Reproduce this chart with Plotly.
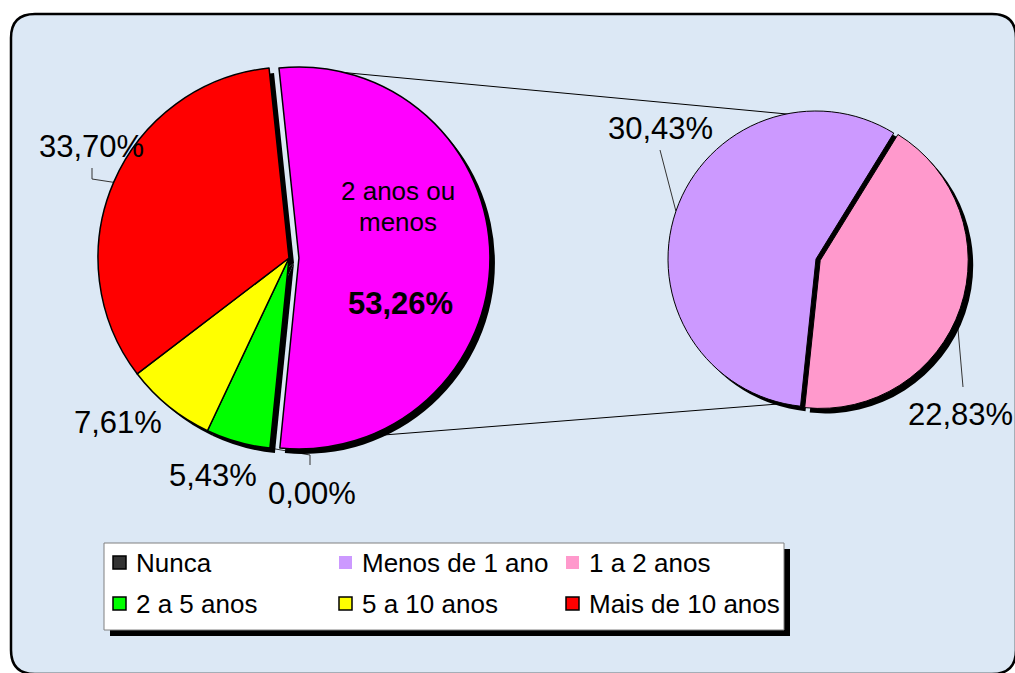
import numpy as np
import plotly.graph_objects as go

W, H = 1015, 673

# main pie
main_labels = ["2 anos ou menos", "Nunca", "2 a 5 anos", "5 a 10 anos", "Mais de 10 anos"]
main_values = [53.26, 0.00, 5.43, 7.61, 33.70]
main_colors = ["#FF00FF", "#333333", "#00FF00", "#FFFF00", "#FF0000"]

# breakdown of "2 anos ou menos"
sub_labels = ["Menos de 1 ano", "1 a 2 anos"]
sub_values = [30.43, 22.83]
sub_colors = ["#CC99FF", "#FF99CC"]

# legend order (two rows of three)
legend_labels = ["Nunca", "Menos de 1 ano", "1 a 2 anos",
                 "2 a 5 anos", "5 a 10 anos", "Mais de 10 anos"]

FONT = "Liberation Sans, Arial, sans-serif"
BG = "#DCE8F5"

# geometry (pixels)
L_CX, L_CY, L_R, L_ROT, L_PULL = 289, 258, 191, -6, 0.052
R_CX, R_CY, R_R, R_ROT, R_PULL = 816, 259, 148, 186, 0.03
SHADOW = 5
# where the connector lines touch each pie (degrees clockwise from 12 o'clock)
CONNECT = [(14, -4), (159, 185)]


def pct(v):
    return f"{v:.2f}".replace(".", ",") + "%"


def domain(cx, cy, r, pull, dx=0, dy=0):
    half = r * (1 + pull)
    return dict(x=[(cx - half + dx) / W, (cx + half + dx) / W],
                y=[1 - (cy + half + dy) / H, 1 - (cy - half + dy) / H])


def edge(cx, cy, r, ang):
    a = np.radians(ang)
    return cx + r * np.sin(a), cy - r * np.cos(a)


def slice_angles(values, rot):
    tot = sum(values)
    starts, ends = [], []
    a = rot
    for v in values:
        starts.append(a)
        a += 360 * v / tot
        ends.append(a)
    return starts, ends


l_start, l_end = slice_angles(main_values, L_ROT)
r_start, r_end = slice_angles(sub_values, R_ROT)
l_mid = [(s + e) / 2 for s, e in zip(l_start, l_end)]
r_mid = [(s + e) / 2 for s, e in zip(r_start, r_end)]

fig = go.Figure()

# shadows first
fig.add_trace(go.Pie(values=main_values, labels=main_labels, sort=False, direction="clockwise",
                     rotation=L_ROT, pull=[L_PULL, 0, 0, 0, 0], textinfo="none", hoverinfo="skip",
                     marker=dict(colors=["black"] * 5, line=dict(width=0)),
                     domain=domain(L_CX, L_CY, L_R, L_PULL, SHADOW, SHADOW), showlegend=False))
fig.add_trace(go.Pie(values=sub_values, labels=sub_labels, sort=False, direction="clockwise",
                     rotation=R_ROT, pull=[0, R_PULL], textinfo="none", hoverinfo="skip",
                     marker=dict(colors=["black"] * 2, line=dict(width=0)),
                     domain=domain(R_CX, R_CY, R_R, R_PULL, SHADOW, SHADOW), showlegend=False))

fig.add_trace(go.Pie(values=main_values, labels=main_labels, sort=False, direction="clockwise",
                     rotation=L_ROT, pull=[L_PULL, 0, 0, 0, 0], textinfo="none",
                     marker=dict(colors=main_colors, line=dict(color="black", width=1.5)),
                     domain=domain(L_CX, L_CY, L_R, L_PULL), showlegend=False))
fig.add_trace(go.Pie(values=sub_values, labels=sub_labels, sort=False, direction="clockwise",
                     rotation=R_ROT, pull=[0, R_PULL], textinfo="none",
                     marker=dict(colors=sub_colors, line=dict(color="black", width=1)),
                     domain=domain(R_CX, R_CY, R_R, R_PULL), showlegend=False))

# connector lines between the pies
pull_px = L_PULL * L_R
mcx = L_CX + pull_px * np.sin(np.radians(l_mid[0]))
mcy = L_CY - pull_px * np.cos(np.radians(l_mid[0]))
for a_left, a_right in CONNECT:
    x0, y0 = edge(mcx, mcy, L_R, a_left)
    x1, y1 = edge(R_CX, R_CY, R_R * 0.97, a_right)
    fig.add_trace(go.Scatter(x=[x0, x1], y=[y0, y1], mode="lines", hoverinfo="skip",
                             line=dict(color="black", width=1), showlegend=False))

# leader lines
leaders = [
    (edge(L_CX, L_CY, L_R, l_mid[4]), [(92, 179), (92, 168)]),
    (edge(L_CX, L_CY, L_R, l_mid[1]), [(310, 455), (310, 465)]),
    (edge(R_CX, R_CY, R_R, r_mid[0]), [(660, 150)]),
    (edge(R_CX, R_CY, R_R, r_mid[1]), [(963, 387)]),
]
for (sx, sy), pts in leaders:
    xs = [sx] + [p[0] for p in pts]
    ys = [sy] + [p[1] for p in pts]
    fig.add_trace(go.Scatter(x=xs, y=ys, mode="lines", hoverinfo="skip",
                             line=dict(color="#333333", width=1), showlegend=False))

# data labels
ann = []
label_pos = {
    "Mais de 10 anos": (91, 146), "5 a 10 anos": (118, 422), "2 a 5 anos": (213, 475),
    "Nunca": (312, 493), "Menos de 1 ano": (660, 128), "1 a 2 anos": (960, 414),
}
all_vals = dict(zip(main_labels + sub_labels, main_values + sub_values))
for lab, (x, y) in label_pos.items():
    ann.append(dict(x=x, y=y, xref="x", yref="y", text=pct(all_vals[lab]), showarrow=False,
                    font=dict(family=FONT, size=31, color="black")))
ann.append(dict(x=398, y=191, xref="x", yref="y", text="2 anos ou", showarrow=False,
                font=dict(family=FONT, size=26, color="black")))
ann.append(dict(x=398, y=222, xref="x", yref="y", text="menos", showarrow=False,
                font=dict(family=FONT, size=26, color="black")))
ann.append(dict(x=400, y=303, xref="x", yref="y", text="<b>" + pct(main_values[0]) + "</b>",
                showarrow=False, font=dict(family=FONT, size=31, color="black")))

# background with rounded border (right and bottom edges run just past the frame)
x0, y0, x1, y1, rr = 11, 14, 1016, 674, 24
bg_path = (f"M {x0 + rr},{y0} L {x1 - rr},{y0} Q {x1},{y0} {x1},{y0 + rr} "
           f"L {x1},{y1 - rr} Q {x1},{y1} {x1 - rr},{y1} L {x0 + rr},{y1} "
           f"Q {x0},{y1} {x0},{y1 - rr} L {x0},{y0 + rr} Q {x0},{y0} {x0 + rr},{y0} Z")
shapes = [dict(type="path", path=bg_path, xref="x", yref="y", fillcolor=BG,
               line=dict(color="black", width=2.5), layer="below")]

# legend box
lx0, ly0, lx1, ly1 = 104, 543, 784, 630
shapes.append(dict(type="rect", x0=lx0 + 6, y0=ly0 + 6, x1=lx1 + 6, y1=ly1 + 6, xref="x", yref="y",
                   fillcolor="black", line=dict(width=0)))
shapes.append(dict(type="rect", x0=lx0, y0=ly0, x1=lx1, y1=ly1, xref="x", yref="y",
                   fillcolor="white", line=dict(color="#808080", width=1)))
color_of = dict(zip(main_labels + sub_labels, main_colors + sub_colors))
col_x = [113, 339, 566]
row_y = [563, 604]
for i, lab in enumerate(legend_labels):
    cx = col_x[i % 3]
    cy = row_y[i // 3]
    bordered = lab not in sub_labels
    shapes.append(dict(type="rect", x0=cx, y0=cy - 7, x1=cx + 13, y1=cy + 6, xref="x", yref="y",
                       fillcolor=color_of[lab],
                       line=dict(color="black", width=1.5 if bordered else 0)))
    ann.append(dict(x=cx + 21, y=cy, xref="x", yref="y", text=lab, showarrow=False,
                    xanchor="left", font=dict(family=FONT, size=26, color="black")))

fig.update_layout(
    width=W, height=H,
    margin=dict(l=0, r=0, t=0, b=0),
    paper_bgcolor="white", plot_bgcolor="rgba(0,0,0,0)",
    xaxis=dict(range=[0, W], visible=False, fixedrange=True),
    yaxis=dict(range=[H, 0], visible=False, fixedrange=True),
    shapes=shapes, annotations=ann,
)

# page body has a default 8px margin; drop it so the figure fills the window
fig.write_html("out.html", config={"displayModeBar": False},
               post_script="document.body.style.margin='0';"
                           "document.body.style.overflow='hidden';")
